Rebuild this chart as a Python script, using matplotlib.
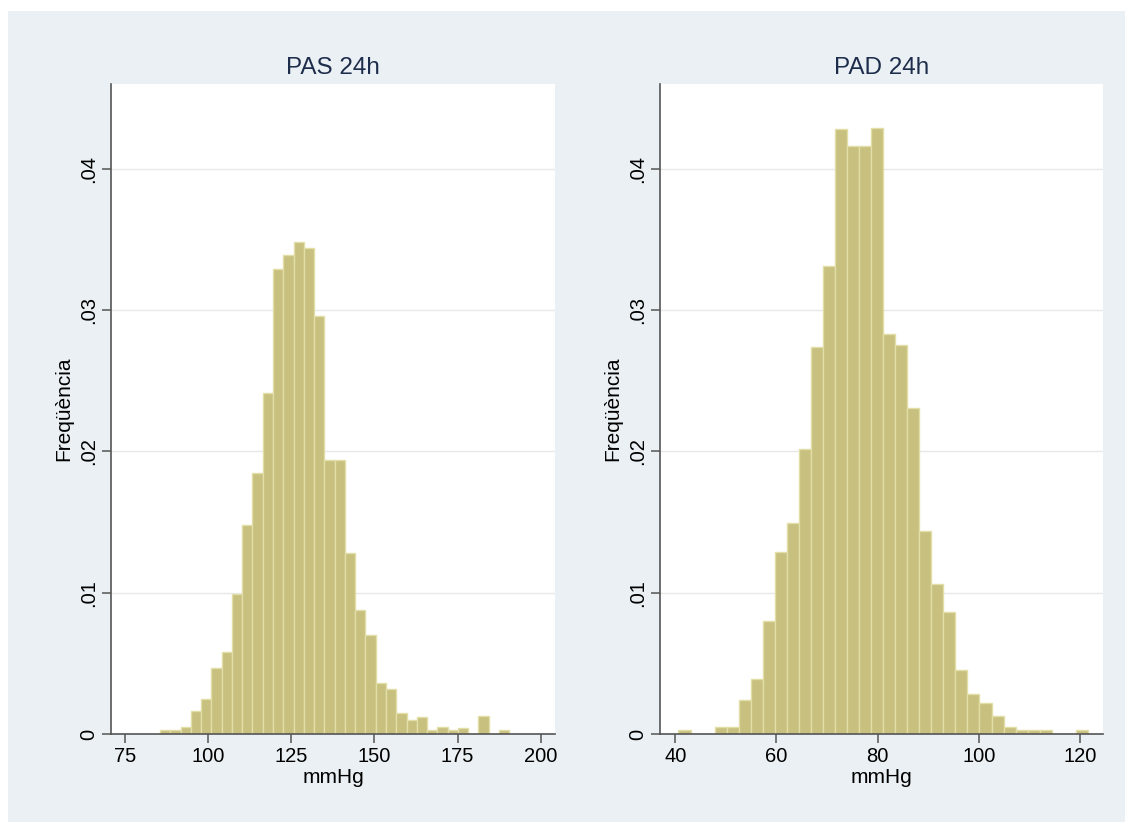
import numpy as np
import matplotlib
matplotlib.use('Agg')
import matplotlib.pyplot as plt
from matplotlib.patches import Rectangle

plt.rcParams['font.family'] = ['Liberation Sans', 'DejaVu Sans']

# Histogram densities (34 bins each)
pas_start = 85.52
pas_width = 3.089
pas_density = [0.00028, 0.00028, 0.00052, 0.00163, 0.00247, 0.0047, 0.0058, 0.0099,
               0.0148, 0.0185, 0.0241, 0.0329, 0.0339, 0.0348, 0.0344, 0.0296,
               0.0194, 0.0194, 0.0128, 0.0088, 0.0070, 0.0036, 0.0032, 0.0015,
               0.0010, 0.0012, 0.00028, 0.0005, 0.00028, 0.0004, 0.0, 0.0013,
               0.0, 0.00028]

pad_start = 40.65
pad_width = 2.378
pad_density = [0.0003, 0.0, 0.0, 0.0005, 0.0005, 0.0024, 0.0039, 0.0080,
               0.0129, 0.0149, 0.0202, 0.0274, 0.0331, 0.0428, 0.0416, 0.0416,
               0.0429, 0.0283, 0.0275, 0.0231, 0.0144, 0.0106, 0.0086, 0.0045,
               0.0028, 0.0022, 0.0013, 0.0005, 0.0003, 0.0003, 0.0003, 0.0,
               0.0, 0.0003]

titles = ['PAS 24h', 'PAD 24h']
ylabel = 'Freqüència'
xlabel = 'mmHg'
yticks = [0, 0.01, 0.02, 0.03, 0.04]
ytick_labels = ['0', '.01', '.02', '.03', '.04']
pas_xticks = [75, 100, 125, 150, 175, 200]
pad_xticks = [40, 60, 80, 100, 120]

BAR = '#c8c07e'
BAR_EDGE = '#e2dea8'
BG = '#eaf0f3'
TITLE = '#1e2d4c'
AXIS = '#555555'


def draw_hist(ax, start, width, density, xticks, xlim, title):
    edges = start + width * np.arange(len(density))
    ax.bar(edges, density, width=width, align='edge', color=BAR,
           edgecolor=BAR_EDGE, linewidth=1.0, zorder=2)
    ax.set_xlim(*xlim)
    ax.set_ylim(0, 0.046)
    ax.set_xticks(xticks)
    ax.set_yticks(yticks)
    ax.set_yticklabels(ytick_labels, rotation=90, va='center')
    ax.grid(axis='y', color='#e8e8e8', linewidth=1.0, zorder=0)
    ax.set_axisbelow(True)
    for side in ['top', 'right']:
        ax.spines[side].set_visible(False)
    for side in ['left', 'bottom']:
        ax.spines[side].set_color(AXIS)
        ax.spines[side].set_linewidth(1.2)
    ax.tick_params(colors=AXIS, labelcolor='black', length=6.5, width=1.1,
                   labelsize=14.5, pad=3)
    ax.set_title(title, color=TITLE, fontsize=17.5, pad=7)
    ax.set_xlabel(xlabel, fontsize=15, labelpad=1)
    ax.set_ylabel(ylabel, fontsize=15, labelpad=4)


def main():
    fig = plt.figure(figsize=(11.32, 8.27), dpi=100)
    fig.patch.set_facecolor('white')
    fig.patches.append(Rectangle((8 / 1132, 1 - 822 / 827), 1117 / 1132, 811 / 827,
                                 transform=fig.transFigure, facecolor=BG,
                                 edgecolor='none', zorder=-10))

    ax1 = fig.add_axes([111 / 1132, 93 / 827, 444 / 1132, 650 / 827])
    ax2 = fig.add_axes([660 / 1132, 93 / 827, 443 / 1132, 650 / 827])

    draw_hist(ax1, pas_start, pas_width, pas_density, pas_xticks, (70.8, 204.3), titles[0])
    draw_hist(ax2, pad_start, pad_width, pad_density, pad_xticks, (37.0, 124.5), titles[1])

    fig.savefig('out.png', dpi=100)
    plt.close(fig)


if __name__ == "__main__":
    main()
